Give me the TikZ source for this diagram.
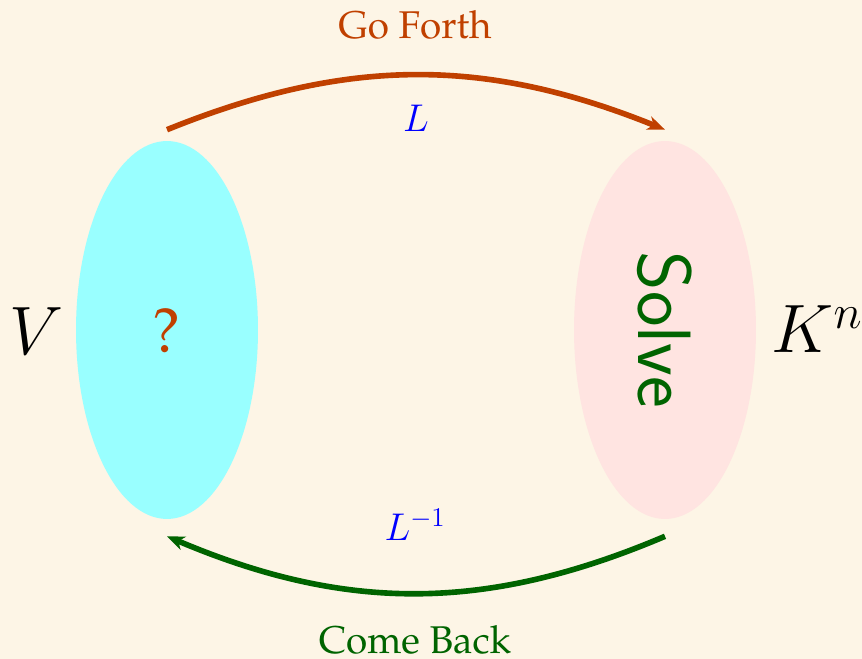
\RequirePackage{fix-cm}
\documentclass[tikz,border=0pt]{standalone}
\usepackage[T1,TU]{fontenc}
\usepackage{tikz}
\usetikzlibrary{arrows.meta,shapes.geometric,positioning,calc}
\definecolor{paper}{HTML}{FDF5E6}
\definecolor{domain}{HTML}{99FFFF}
\definecolor{target}{HTML}{FFE4E1}
\definecolor{forth}{HTML}{C04000}
\definecolor{back}{HTML}{006400}
\newcommand{\pal}{\fontencoding{T1}\fontfamily{ppl}\selectfont}

\begin{document}
\begin{tikzpicture}[x=0.02cm, y=0.02cm,
    every node/.style={inner sep=0pt},
    blob/.style={ellipse, minimum width=3.64cm, minimum height=7.56cm},
    big/.style={font=\fontsize{39}{44}\selectfont, anchor=base},
    word/.style={font=\fontsize{22}{26}\selectfont\pal, anchor=base},
    mapto/.style={-{Stealth[length=10pt,width=8pt,inset=3pt]}, line width=3.2pt}]
\fill[paper] (0,0) rectangle (862,659);
\useasboundingbox (0,0) rectangle (862,659);
% the two spaces
\node[blob, fill=domain] (vsp) at (167,329) {};
\node[blob, fill=target] (kn) at (665,329) {};
\node[font=\fontsize{36}{40}\selectfont\pal, anchor=base, text=forth] (ask) at (167,306) {?};
\node[font=\fontsize{43}{48}\selectfont\sffamily, rotate=-90, text=back] (solve) at (kn.center) {Solve};
\node[big] (vname) at (37,304) {$V$};
\node[big] (knname) at (817,306) {$K^n$};
% going there and back
\coordinate (go) at ($(vsp.north)+(0,11)$);
\coordinate (arrive) at ($(kn.north)+(0,11)$);
\coordinate (leave) at ($(kn.south)+(0,-17)$);
\coordinate (ret) at ($(vsp.south)+(0,-17)$);
\draw[mapto, forth] (go) to[bend left=22] (arrive);
\draw[mapto, back] (leave) to[bend left=23] (ret);
% labels
\node[word, text=forth] (goforth) at (415,620) {Go Forth};
\node[word, text=blue] (lmap) at (416,527) {$L$};
\node[word, text=blue] (linv) at (415,118) {$L^{-1}$};
\node[word, text=back] (comeback) at (415,5) {Come Back};
\end{tikzpicture}
\end{document}
